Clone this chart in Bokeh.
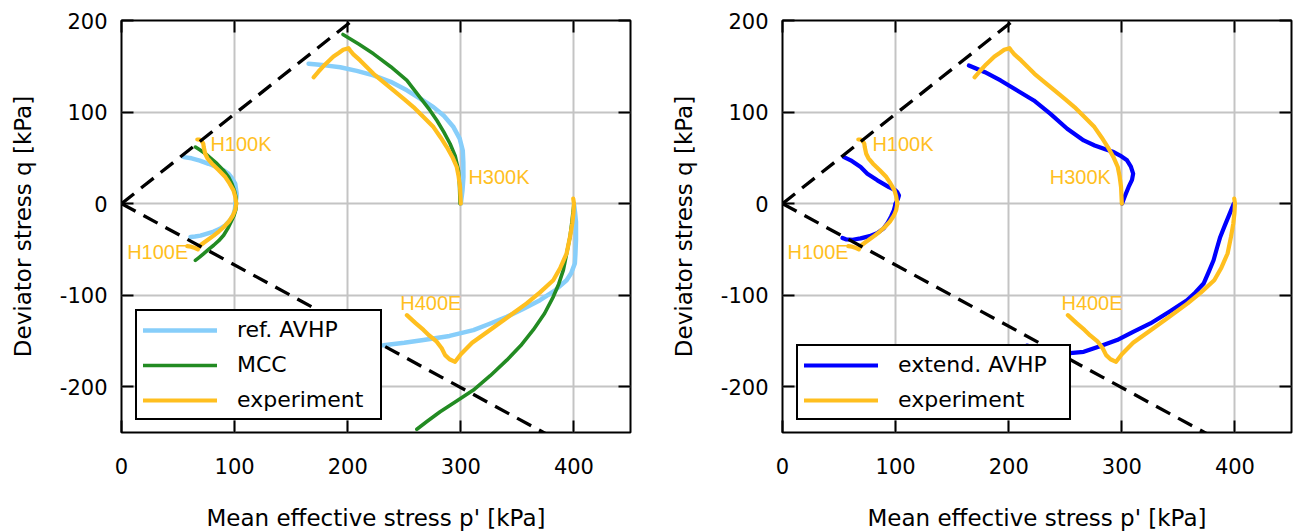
from bokeh.plotting import figure
from bokeh.models import (ColumnDataSource, LinearAxis, FixedTicker, Legend, LegendItem, Range1d,
                          PrintfTickFormatter)
from bokeh.layouts import row
from bokeh.embed import file_html
from bokeh.resources import INLINE
from bokeh.core.properties import value

# ---------------- stress paths (p' [kPa], q [kPa]) ----------------
# experiment
exp_H100K_p = [101.5, 100.5, 99.0, 95.5, 91.8, 86.0, 80.0, 76.0, 74.0, 72.7, 72.3, 71.0, 69.0, 67.0]
exp_H100K_q = [0.0, 8.0, 14.5, 22.0, 29.0, 36.5, 43.6, 49.5, 54.5, 61.8, 65.5, 68.5, 69.8, 70.0]
exp_H100E_p = [101.5, 100.5, 98.5, 95.0, 90.5, 86.0, 81.5, 77.0, 73.0, 69.8, 68.0, 67.5, 65.0, 61.5, 58.2]
exp_H100E_q = [0.0, -7.0, -13.0, -19.5, -25.5, -30.5, -35.0, -39.0, -42.5, -45.5, -48.0, -50.0, -48.5, -47.0, -46.5]
exp_H300K_p = [300.0, 299.3, 298.0, 296.4, 292.5, 287.6, 282.0, 275.8, 267.0, 258.1, 249.3, 240.5,
               231.6, 222.8, 211.0, 205.0, 202.0, 200.7, 196.0, 192.0, 187.4, 180.0, 174.0, 169.8]
exp_H300K_q = [0.0, 18.0, 30.0, 40.0, 51.0, 61.8, 72.5, 83.6, 94.5, 105.4, 114.6, 123.7,
               132.8, 141.8, 156.4, 163.0, 167.5, 169.8, 168.0, 164.5, 160.7, 152.0, 144.0, 138.0]
exp_H400E_p = [399.4, 400.0, 399.6, 398.5, 396.5, 393.5, 388.0, 381.7, 370.0, 358.2, 342.0, 325.8,
               310.0, 300.0, 294.9, 290.0, 286.1, 283.1, 278.7, 272.0, 267.0, 260.0, 252.3]
exp_H400E_q = [5.4, 0.0, -10.0, -22.0, -36.4, -54.5, -70.0, -83.7, -97.0, -109.0, -123.5, -138.0,
               -152.0, -164.5, -172.8, -170.0, -165.5, -158.0, -150.8, -144.0, -138.0, -130.5, -121.8]

# reference AVHP model
ref_H100K_p = [100.7, 101.5, 101.8, 100.5, 97.5, 94.5, 90.0, 84.0, 77.0, 69.2, 62.0, 55.0]
ref_H100K_q = [0.0, 6.0, 10.9, 21.8, 28.0, 32.7, 36.5, 40.0, 43.5, 47.0, 49.5, 50.8]
ref_H100E_p = [100.7, 100.3, 99.0, 96.2, 92.0, 87.0, 81.5, 75.0, 69.8, 65.0, 61.0]
ref_H100E_q = [0.0, -6.0, -12.0, -18.0, -23.5, -27.5, -30.5, -33.0, -35.0, -36.0, -36.4]
ref_H300K_p = [300.0, 301.5, 302.3, 302.2, 301.7, 299.0, 293.5, 285.0, 275.8, 265.0, 252.3, 238.0,
               222.8, 208.0, 193.4, 180.0, 165.4]
ref_H300K_q = [0.0, 15.0, 29.0, 45.0, 58.0, 71.0, 83.6, 96.0, 105.4, 114.0, 123.7, 133.0,
               140.0, 145.0, 149.0, 151.0, 152.7]
ref_H400E_p = [400.0, 401.0, 401.8, 401.8, 401.3, 400.8, 397.5, 393.5, 383.0, 370.0, 355.0, 340.6,
               325.0, 311.1, 290.0, 267.0, 250.0, 231.6, 215.0]
ref_H400E_q = [0.0, -10.0, -20.0, -40.0, -55.0, -65.4, -76.0, -83.7, -95.0, -105.5, -115.0, -123.7,
               -131.5, -138.2, -144.5, -149.0, -152.0, -154.6, -155.5]

# Modified Cam Clay
mcc_H100K_p = [101.5, 101.2, 99.8, 97.5, 94.7, 90.0, 84.4, 79.0, 74.2, 69.5, 65.3]
mcc_H100K_q = [0.0, 7.0, 14.5, 22.0, 29.0, 36.5, 43.6, 49.5, 54.5, 58.5, 61.8]
mcc_H100E_p = [101.5, 101.0, 99.5, 97.0, 94.0, 90.3, 86.0, 81.5, 77.0, 72.7, 69.0, 65.3]
mcc_H100E_q = [0.0, -7.0, -13.0, -19.5, -27.0, -34.5, -40.5, -45.5, -50.0, -54.5, -58.5, -62.0]
mcc_H300K_p = [299.3, 298.8, 297.9, 295.0, 290.5, 285.0, 279.0, 272.8, 262.0, 252.3, 238.0, 222.8, 210.0, 195.8]
mcc_H300K_q = [0.0, 20.0, 36.3, 52.0, 65.4, 78.0, 90.5, 101.8, 119.0, 134.5, 149.5, 163.6, 174.0, 184.7]
mcc_H400E_p = [400.0, 398.0, 396.5, 393.5, 390.6, 386.5, 381.7, 374.0, 364.0, 353.0, 340.6, 326.0,
               311.1, 296.0, 281.7, 270.0, 261.1]
mcc_H400E_q = [0.0, -22.0, -36.4, -55.0, -72.7, -88.0, -101.8, -120.0, -138.0, -155.0, -171.0, -188.0,
               -203.6, -216.0, -227.3, -238.0, -246.5]

# extended AVHP model
ext_H100K_p = [100.0, 102.0, 103.0, 101.5, 100.0, 94.1, 83.9, 75.0, 69.1, 60.3, 54.4]
ext_H100K_q = [0.0, 5.0, 9.0, 12.5, 14.5, 18.0, 25.4, 32.7, 40.0, 47.3, 50.8]
ext_H100E_p = [100.0, 98.5, 96.0, 93.0, 89.5, 84.0, 77.0, 69.0, 62.0, 56.0, 53.0]
ext_H100E_q = [0.0, -7.0, -14.0, -21.0, -27.0, -32.0, -35.5, -38.0, -39.5, -39.0, -37.5]
ext_H300K_p = [300.2, 303.0, 306.0, 309.0, 310.0, 308.0, 304.6, 298.5, 292.8, 286.0, 276.0, 266.3, 251.7,
               236.9, 222.2, 207.5, 192.8, 179.0, 164.8]
ext_H300K_q = [0.0, 9.0, 18.2, 26.0, 32.7, 40.5, 47.3, 52.5, 56.3, 59.0, 63.5, 69.0, 81.8,
               98.0, 112.7, 123.6, 134.5, 143.5, 150.8]
ext_H400E_p = [399.0, 395.0, 391.0, 387.0, 384.0, 381.1, 377.0, 372.3, 365.0, 357.6, 342.0,
               325.2, 310.0, 295.8, 280.0, 266.3, 251.7, 240.0, 228.0, 216.0]
ext_H400E_q = [0.0, -12.0, -24.0, -36.4, -49.0, -61.8, -74.0, -87.3, -97.0, -105.5, -118.0,
               -130.9, -140.0, -149.0, -156.0, -161.9, -163.6, -162.5, -158.5, -155.0]

# critical state lines q = M p (compression) and q = -M p (extension)
M_comp = 0.98
M_ext = 0.67
csl_p = [0.0, 450.0]

test_names = ["H100K", "H300K", "H100E", "H400E"]
x_ticks = [0, 100, 200, 300, 400]
y_ticks = [-200, -100, 0, 100, 200]

ORANGE = "#FFBF1F"
LIGHT_BLUE = "#87CEFA"
GREEN = "#228B22"
BLUE = "#0000FF"
AX_FONT = "DejaVu Sans"


def paths(pre):
    g = globals()
    xs = [g[f"{pre}_{n}_p"] for n in ("H100K", "H100E", "H300K", "H400E")]
    ys = [g[f"{pre}_{n}_q"] for n in ("H100K", "H100E", "H300K", "H400E")]
    return ColumnDataSource(dict(xs=xs, ys=ys))


def make_panel(series, label_anchor, left_border, right_border, label_width):
    p = figure(frame_width=509, frame_height=412,
               x_range=Range1d(0, 450), y_range=Range1d(-250, 200),
               output_backend="svg", toolbar_location=None,
               min_border_left=left_border, min_border_right=right_border,
               min_border_top=20, min_border_bottom=100,
               x_axis_label="Mean effective stress p' [kPa]",
               y_axis_label="Deviator stress q [kPa]")
    p.outline_line_color = "black"
    p.outline_line_width = 2
    p.background_fill_color = "white"
    p.border_fill_color = "white"

    for ax in (p.xaxis[0], p.yaxis[0]):
        ax.axis_line_color = None
        ax.major_tick_in = 12
        ax.major_tick_out = 0
        ax.major_tick_line_width = 2
        ax.major_tick_line_color = "black"
        ax.minor_tick_line_color = None
        ax.formatter = PrintfTickFormatter(format="%d")
        ax.major_label_text_font = AX_FONT
        ax.major_label_text_font_size = "21px"
        ax.major_label_text_color = "black"
        ax.axis_label_text_font = AX_FONT
        ax.axis_label_text_font_size = "23px"
        ax.axis_label_text_font_style = "normal"
        ax.axis_label_text_color = "black"
    p.xaxis[0].ticker = FixedTicker(ticks=x_ticks)
    p.yaxis[0].ticker = FixedTicker(ticks=y_ticks)
    p.xaxis[0].major_label_standoff = 25
    p.xaxis[0].axis_label_standoff = 28
    p.yaxis[0].major_label_standoff = 14
    p.yaxis[0].axis_label_standoff = 21

    # mirrored inward ticks on the top and right edges, without numbers
    top = LinearAxis(ticker=FixedTicker(ticks=x_ticks))
    right = LinearAxis(ticker=FixedTicker(ticks=y_ticks))
    for ax in (top, right):
        ax.axis_line_color = None
        ax.major_tick_in = 12
        ax.major_tick_out = 0
        ax.major_tick_line_width = 2
        ax.minor_tick_line_color = None
        ax.major_label_text_font_size = "1px"
        ax.major_label_text_color = None
        ax.major_label_standoff = 0
    p.add_layout(top, "above")
    p.add_layout(right, "right")

    p.xgrid.ticker = FixedTicker(ticks=x_ticks)
    p.ygrid.ticker = FixedTicker(ticks=y_ticks)
    for g in (p.xgrid[0], p.ygrid[0]):
        g.grid_line_color = "#c4c4c4"
        g.grid_line_width = 2

    items = []
    for name, pre, color, width in series:
        r = p.multi_line(xs="xs", ys="ys", source=paths(pre), line_color=color,
                         line_width=width, line_join="round", line_cap="round")
        items.append(LegendItem(label=name, renderers=[r]))

    # critical state lines
    p.line(csl_p, [M_comp * v for v in csl_p], line_color="black", line_width=3.3, line_dash="16 9")
    p.line(csl_p, [-M_ext * v for v in csl_p], line_color="black", line_width=3.3, line_dash="16 9")

    # test labels
    lx = [label_anchor[n][0] for n in test_names]
    ly = [label_anchor[n][1] for n in test_names]
    p.text(x=lx, y=ly, text=test_names, text_color=ORANGE, text_font=value("Liberation Sans"),
           text_font_size="20px", text_align="left", text_baseline="middle")

    legend = Legend(items=items, location=(14, 12))
    legend.border_line_color = "black"
    legend.border_line_width = 2
    legend.border_line_alpha = 1
    legend.background_fill_alpha = 1
    legend.label_text_font = AX_FONT
    legend.label_text_font_size = "22px"
    legend.label_text_color = "black"
    legend.glyph_width = 74
    legend.glyph_height = 20
    legend.label_height = 20
    legend.label_width = label_width
    legend.label_standoff = 20
    legend.spacing = 10
    legend.padding = 6
    legend.margin = 0
    p.add_layout(legend, "center")
    return p


left = make_panel(
    [("ref. AVHP", "ref", LIGHT_BLUE, 4.5), ("MCC", "mcc", GREEN, 3.6), ("experiment", "exp", ORANGE, 4.2)],
    {"H100K": (78.6, 65.5), "H300K": (306.7, 29.0), "H100E": (5.0, -52.8), "H400E": (246.4, -109.0)},
    left_border=121, right_border=20, label_width=137)

right = make_panel(
    [("extend. AVHP", "ext", BLUE, 4.2), ("experiment", "exp", ORANGE, 4.2)],
    {"H100K": (79.5, 65.5), "H300K": (236.3, 29.0), "H100E": (4.4, -52.8), "H400E": (246.6, -109.0)},
    left_border=132, right_border=9, label_width=165)

layout = row(left, right)
open("out.html", "w").write(file_html(layout, INLINE))
